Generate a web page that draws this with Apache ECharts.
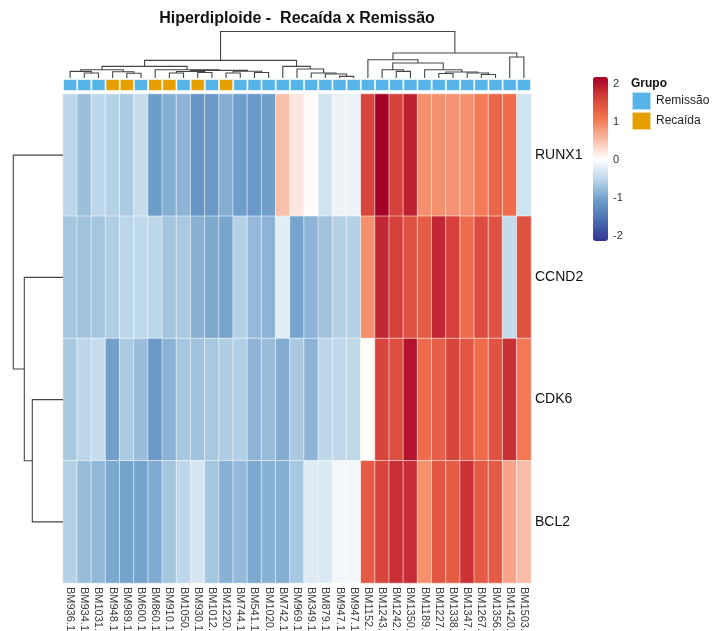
<!DOCTYPE html>
<html>
<head>
<meta charset="utf-8">
<script src="https://cdn.jsdelivr.net/npm/echarts@6/dist/echarts.min.js"></script>
<style>
  html, body { margin: 0; padding: 0; background: #ffffff; }
  #chart { width: 712px; height: 631px; }
</style>
</head>
<body>
<div id="chart"></div>
<script>
// ---- data -------------------------------------------------------------
const samples = ['BM936.1', 'BM934.1', 'BM1031.', 'BM948.1', 'BM989.1', 'BM600.1', 'BM860.1',
  'BM910.1', 'BM1050.', 'BM930.1', 'BM1012.', 'BM1220.', 'BM744.1', 'BM541.1', 'BM1020.',
  'BM742.1', 'BM969.1', 'BM349.1', 'BM879.1', 'BM947.1', 'BM947.1', 'BM1152.', 'BM1243.',
  'BM1242.', 'BM1350.', 'BM1189.', 'BM1227.', 'BM1338.', 'BM1347.', 'BM1267.', 'BM1356.',
  'BM1420.', 'BM1503.'];
const genes = ['RUNX1', 'CCND2', 'CDK6', 'BCL2'];
const groups = ['Remissão', 'Recaída'];
// 0 = Remissão, 1 = Recaída (one entry per sample, same order as samples)
const sampleGroup = [0, 0, 0, 1, 1, 0, 1, 1, 0, 1, 0, 1, 0, 0, 0, 0, 0,
  0, 0, 0, 0, 0, 0, 0, 0, 0, 0, 0, 0, 0, 0, 0, 0];

// scaled expression (z-score) per gene
const runx1 = [-0.50, -0.70, -0.50, -0.55, -0.60, -0.42, -1.00, -0.85, -0.80, -1.08, -1.05,
  -0.85, -1.00, -1.05, -0.98, 0.45, 0.18, 0.02, -0.35, -0.15, -0.15, 1.45, 2.00, 1.48, 1.75,
  0.80, 0.80, 0.78, 0.80, 0.95, 1.15, 1.08, -0.35];
const ccnd2 = [-0.65, -0.67, -0.65, -0.58, -0.50, -0.47, -0.50, -0.65, -0.62, -0.83, -0.90,
  -0.93, -0.55, -0.75, -0.80, -0.22, -0.93, -0.80, -0.68, -0.55, -0.55, 0.80, 1.70, 1.50, 1.35,
  1.22, 1.70, 1.50, 1.08, 1.38, 1.33, -0.45, 1.33];
const cdk6 = [-0.62, -0.50, -0.42, -0.97, -0.60, -0.72, -1.05, -0.82, -0.65, -0.68, -0.63,
  -0.58, -0.57, -0.80, -0.73, -0.87, -0.62, -0.80, -0.50, -0.47, -0.47, 0.03, 1.45, 1.37, 1.85,
  1.08, 1.20, 1.45, 1.30, 1.08, 1.33, 1.62, 0.97];
const bcl2 = [-0.55, -0.73, -0.77, -0.90, -0.95, -0.95, -0.88, -0.65, -0.50, -0.33, -0.65,
  -0.83, -0.75, -0.90, -0.83, -0.85, -0.63, -0.25, -0.27, -0.10, -0.10, 1.25, 1.45, 1.63, 1.65,
  0.80, 1.30, 1.22, 1.60, 1.25, 1.25, 0.65, 0.47];

const scaleTicks = [-2, -1, 0, 1, 2];

// hierarchical clustering of samples: [left, right, height]
// negative = leaf (1-based sample position), positive = earlier merge (1-based)
const colMerge = [
  [-2, -3, 5.0], [-1, 1, 6.6], [-5, -6, 4.8], [-4, 3, 6.3], [2, 4, 8.3],
  [-8, -9, 5.0], [-10, -11, 5.5], [6, 7, 6.5], [-12, -13, 5.0], [-14, -15, 5.5],
  [9, 10, 6.8], [8, 11, 7.6], [-7, 12, 8.3], [5, 13, 11.6],
  [-20, -21, 1.6], [-19, 15, 4.0], [-18, 16, 5.0], [-17, 17, 9.0], [-16, 18, 11.6],
  [14, 19, 17.6],
  [-24, -25, 6.6], [-23, 21, 8.3], [-27, -28, 4.5], [-30, -31, 3.5], [-29, 24, 5.0],
  [23, 25, 6.0], [-26, 26, 8.3], [22, 27, 15.0], [-22, 28, 18.3], [-32, -33, 21.0],
  [29, 30, 25.0], [20, 31, 46.5]
];
// hierarchical clustering of genes
const rowMerge = [[-3, -4, 30.7], [-2, 1, 38.7], [-1, 2, 49.7]];

// ---- helpers ----------------------------------------------------------
function dendroLinks(merge) {
  const nodes = [];
  const node = id => (id < 0 ? { p: -id - 0.5, h: 0 } : nodes[id - 1]);
  const links = [];
  merge.forEach(([a, b, h]) => {
    const A = node(a), B = node(b);
    links.push([[A.p, A.h], [A.p, h], [B.p, h], [B.p, B.h]]);
    nodes.push({ p: (A.p + B.p) / 2, h: h });
  });
  return links;
}

const geneRows = [runx1, ccnd2, cdk6, bcl2];
const heatData = [];
geneRows.forEach((row, r) => row.forEach((v, c) => heatData.push([c, r, v])));

const colLinks = dendroLinks(colMerge).map(l => ({ coords: l }));
const rowLinks = dendroLinks(rowMerge).map(l => ({ coords: l.map(([p, h]) => [h, p]) }));

const FONT = '"Liberation Sans", Arial, Helvetica, sans-serif';
const dendroLine = { color: '#444444', width: 1.1, opacity: 1, curveness: 0 };
const hidden = { show: false };

const chart = echarts.init(document.getElementById('chart'), null, { renderer: 'canvas' });

chart.setOption({
  animation: false,
  backgroundColor: '#ffffff',
  textStyle: { fontFamily: FONT },
  title: [
    {
      text: 'Hiperdiploide -  Recaída x Remissão',
      left: 297, top: 11, textAlign: 'center', padding: 0,
      textStyle: { fontSize: 16, fontWeight: 'bold', color: '#111', fontFamily: FONT }
    },
    {
      text: 'Grupo', left: 631, top: 78, padding: 0,
      textStyle: { fontSize: 12, fontWeight: 'bold', color: '#111', fontFamily: FONT }
    }
  ],
  legend: {
    data: groups, orient: 'vertical', left: 631, top: 91, padding: 0,
    itemWidth: 19, itemHeight: 18, itemGap: 0, icon: 'rect', selectedMode: false,
    textStyle: { fontSize: 12, color: '#222', fontFamily: FONT }
  },
  visualMap: {
    type: 'continuous', min: scaleTicks[0], max: scaleTicks[scaleTicks.length - 1],
    seriesIndex: 0, calculable: false, hoverLink: false, realtime: false,
    left: 593, top: 77, itemWidth: 15, itemHeight: 164, padding: 0,
    inRange: {
      color: ['#313695', '#4a6db0', '#6d9dc9', '#bcd7e9', '#ffffff',
        '#f8b9a0', '#f3744f', '#d5403a', '#a50026']
    }
  },
  grid: [
    // heatmap body
    { left: 63, top: 94, width: 468, height: 489, outerBoundsMode: 'none' },
    // group annotation strip
    { left: 63, top: 79, width: 468, height: 12, outerBoundsMode: 'none' },
    // column dendrogram
    { left: 63, top: 31, width: 468, height: 47, outerBoundsMode: 'none' },
    // row dendrogram
    { left: 13, top: 94, width: 50, height: 489, outerBoundsMode: 'none' },
    // colour scale labels
    { left: 593, top: 84, width: 15, height: 152, outerBoundsMode: 'none' }
  ],
  xAxis: [
    {
      gridIndex: 0, type: 'category', data: samples, position: 'bottom',
      axisLine: hidden, axisTick: hidden, splitLine: hidden,
      axisLabel: { interval: 0, rotate: -90, margin: 4, fontSize: 11, color: '#3a3a3a', fontFamily: FONT }
    },
    { gridIndex: 1, type: 'category', data: samples, show: false },
    { gridIndex: 2, type: 'value', min: 0, max: samples.length, show: false },
    { gridIndex: 3, type: 'value', min: 0, max: 50, inverse: true, show: false },
    { gridIndex: 4, type: 'value', min: 0, max: 1, show: false }
  ],
  yAxis: [
    {
      gridIndex: 0, type: 'category', data: genes, inverse: true, position: 'right',
      axisLine: hidden, axisTick: hidden, splitLine: hidden,
      axisLabel: { margin: 4, fontSize: 14, color: '#111', fontFamily: FONT }
    },
    { gridIndex: 1, type: 'value', min: 0, max: 1, show: false },
    { gridIndex: 2, type: 'value', min: 0, max: 47, show: false },
    { gridIndex: 3, type: 'value', min: 0, max: genes.length, inverse: true, show: false },
    {
      gridIndex: 4, type: 'value', position: 'right',
      min: scaleTicks[0], max: scaleTicks[scaleTicks.length - 1], interval: 1,
      axisLine: hidden, axisTick: hidden, splitLine: hidden,
      axisLabel: { margin: 5, fontSize: 11, color: '#333', fontFamily: FONT }
    }
  ],
  series: [
    {
      type: 'heatmap', xAxisIndex: 0, yAxisIndex: 0, data: heatData,
      itemStyle: { borderColor: 'rgba(255,255,255,0.55)', borderWidth: 1 },
      emphasis: { disabled: true }
    },
    {
      name: groups[0], type: 'bar', xAxisIndex: 1, yAxisIndex: 1,
      data: sampleGroup.map(g => (g === 0 ? 1 : '-')),
      barWidth: '100%', barGap: '-100%',
      itemStyle: { color: '#56b4e9', borderColor: 'rgba(255,255,255,0.6)', borderWidth: 1 }
    },
    {
      name: groups[1], type: 'bar', xAxisIndex: 1, yAxisIndex: 1,
      data: sampleGroup.map(g => (g === 1 ? 1 : '-')),
      barWidth: '100%', barGap: '-100%',
      itemStyle: { color: '#e69f00', borderColor: 'rgba(255,255,255,0.6)', borderWidth: 1 }
    },
    {
      type: 'lines', coordinateSystem: 'cartesian2d', xAxisIndex: 2, yAxisIndex: 2,
      polyline: true, silent: true, data: colLinks, lineStyle: dendroLine
    },
    {
      type: 'lines', coordinateSystem: 'cartesian2d', xAxisIndex: 3, yAxisIndex: 3,
      polyline: true, silent: true, data: rowLinks, lineStyle: dendroLine
    }
  ]
});
</script>
</body>
</html>
